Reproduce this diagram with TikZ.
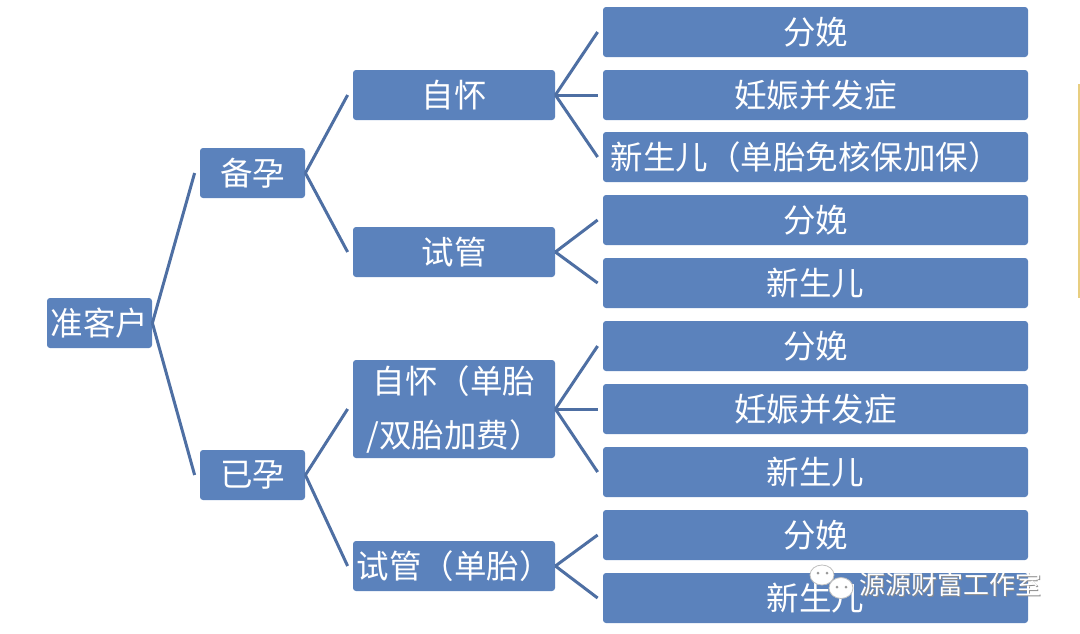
\documentclass[tikz,border=0pt]{standalone}
\usepackage{fontspec}
\newfontfamily\cjk{Noto Sans CJK SC}
\definecolor{boxblue}{RGB}{91,130,188}
\definecolor{linkblue}{RGB}{78,111,163}
\definecolor{markgold}{RGB}{232,206,128}
\tikzset{every picture/.style={line width=0.75pt}}
\tikzset{
  box/.style={fill=boxblue, rounded corners=3pt, text=white, inner sep=0pt, align=center, font=\cjk\fontsize{32.5}{38}\selectfont},
  rootbox/.style={box, minimum width=105pt, minimum height=50pt},
  midbox/.style={box, minimum width=202pt, minimum height=50pt},
  leafbox/.style={box, minimum width=425pt, minimum height=50pt},
  link/.style={draw=linkblue, line width=3pt},
}

\begin{document}
\begin{tikzpicture}[x=1pt,y=1pt,yscale=-1]
\useasboundingbox (0,0) rectangle (1080,633);

% Root
\node [rootbox] (root) at (99.5,323) {准客户};
% Second level
\node [rootbox] (beiyun) at (252.5,173) {备孕};
\node [rootbox] (yiyun) at (252.5,475) {已孕};
% Third level
\node [midbox] (zihuaiA) at (454,95) {自怀};
\node [midbox] (shiguanA) at (454,252) {试管};
\node [midbox, minimum height=98pt, font=\cjk\fontsize{32.5}{54}\selectfont] (zihuaiB) at (454,409) {自怀（单胎\\/双胎加费）};
\node [midbox] (shiguanB) at (454,566) {试管（单胎）};
% Leaves
\node [leafbox] (la1) at (815.5,32) {分娩};
\node [leafbox] (la2) at (815.5,95) {妊娠并发症};
\node [leafbox, align=left, text width=410pt] (la3) at (815.5,157) {新生儿（单胎免核保加保）};
\node [leafbox] (lb1) at (815.5,220) {分娩};
\node [leafbox] (lb2) at (815.5,283) {新生儿};
\node [leafbox] (lc1) at (815.5,346) {分娩};
\node [leafbox] (lc2) at (815.5,409) {妊娠并发症};
\node [leafbox] (lc3) at (815.5,472) {新生儿};
\node [leafbox] (ld1) at (815.5,535) {分娩};
\node [leafbox] (ld2) at (815.5,598) {新生儿};

%Straight Lines
\foreach \a/\b in {root/beiyun, root/yiyun, beiyun/zihuaiA, beiyun/shiguanA, yiyun/zihuaiB, yiyun/shiguanB,
  zihuaiA/la1, zihuaiA/la2, zihuaiA/la3, shiguanA/lb1, shiguanA/lb2,
  zihuaiB/lc1, zihuaiB/lc2, zihuaiB/lc3, shiguanB/ld1, shiguanB/ld2}
  \draw [link] (\a.east) -- ([xshift=-5pt]\b.west);

%Side mark
\coordinate (marktop) at (1078.5,84);
\coordinate (markbot) at (1078.5,298);
\draw [markgold, line width=2pt] (marktop) -- (markbot);

% Watermark
\filldraw [fill=white, draw=black!25, line width=0.8pt] (822,575) ellipse (12pt and 10pt);
\filldraw [fill=white, draw=black!25, line width=0.8pt] (841,588) ellipse (12pt and 10.5pt);
\fill [black!40] (818,573) circle (1.5pt) (827,573) circle (1.5pt) (837,587) circle (1.5pt) (846,587) circle (1.5pt);
\node [text=black!45, font=\cjk\fontsize{26}{30}\selectfont, inner sep=0pt] at (951.5,586) {源源财富工作室};
\node [text=white, font=\cjk\fontsize{26}{30}\selectfont, inner sep=0pt] (mark) at (950.5,585) {源源财富工作室};

\end{tikzpicture}
\end{document}
